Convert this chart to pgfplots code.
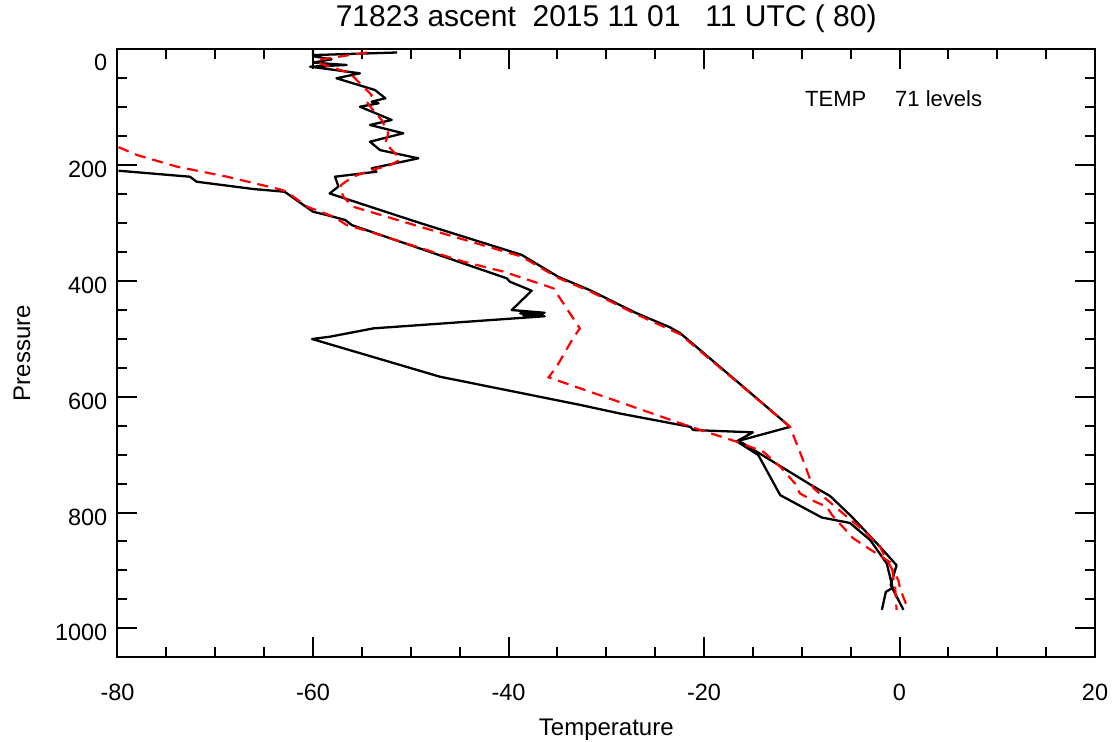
\documentclass[border=0pt]{standalone}
\usepackage{fontspec}
\setmainfont{Liberation Sans}
\usepackage{pgfplots}
\pgfplotsset{compat=1.18}
\begin{document}
\begin{tikzpicture}[x=1bp,y=1bp]
\begin{axis}[
  at={(0,0)}, anchor=south west,
  scale only axis, width=977.5bp, height=608bp,
  xmin=-80, xmax=20, ymin=0, ymax=1050, y dir=reverse,
  xtick={-80,-60,-40,-20,0,20}, xticklabels={-80,-60,-40,-20,0,20},
  minor x tick num=3,
  ytick={0,200,400,600,800,1000}, yticklabels={\raisebox{-8bp}[16.8bp][0pt]{0},200,400,600,800,1000},
  minor y tick num=3,
  major tick length=20bp, minor tick length=10bp,
  tick style={black, line width=2bp},
  axis line style={line width=2bp},
  xticklabel style={font=\fontsize{23.5bp}{27bp}\selectfont, inner sep=0pt, anchor=center, yshift=-35bp},
  yticklabel style={font=\fontsize{23.5bp}{27bp}\selectfont, inner sep=0pt, anchor=east, xshift=-10bp, yshift=-4.5bp},
  title={71823 ascent~~2015 11 01~~~11 UTC ( 80)},
  title style={at={(axis description cs:0.5,1.04)}, anchor=center, inner sep=0pt, font=\fontsize{30bp}{34bp}\selectfont},
  xlabel={Temperature},
  xlabel style={at={(axis description cs:0.5,-0.1196)}, anchor=center, inner sep=0pt, font=\fontsize{24bp}{28bp}\selectfont},
  ylabel={Pressure},
  ylabel style={at={(axis description cs:-0.0977,0.5)}, anchor=center, inner sep=0pt, rotate=0, font=\fontsize{24bp}{28bp}\selectfont},
]
% black, strand 1
\addplot[black, line width=2.3bp, line join=round] coordinates {
(0.4,968) (-0.9,925) (-0.3,891) (-2.0,859) (-4.9,807) (-7.1,771.5) (-8.8,755)
(-16.0,680.5) (-16.65,677) (-11.2,652) (-16.8,571) (-22.45,490) (-23.5,480)
(-27,455) (-31.66,416) (-34.9,393) (-38.65,355) (-49.05,300) (-58.3,249)
(-57.4,237) (-57.75,220) (-53.5,211.4) (-54.0,205.5) (-49.23,188.3) (-53.15,174)
(-54.17,159.6) (-50.76,145) (-54.17,130.7) (-51.95,122) (-55.2,99.1) (-53.3,93.3)
(-54.0,90.5) (-52.6,84.6) (-53.66,70.3) (-57.6,50) (-55.2,41.5) (-60.3,30)
(-56.55,27.1) (-60,23) (-58.1,17.3) (-60,12) (-60,1) (-60,10) (-51.4,5.5)
};
% black, strand 2
\addplot[black, line width=2.3bp, line join=round] coordinates {
(-1.8,968) (-1.4,937) (-0.7,930) (-1.3,888) (-3.0,847.5) (-5.07,818) (-7.96,808.5)
(-12.2,770) (-14.45,700.7) (-16.65,677) (-15.0,661.5) (-21.1,657.5) (-21.4,652)
(-28.6,629) (-32.7,614) (-47.0,565.5) (-60.1,500.3) (-58.3,496.4) (-53.8,481.9)
(-36.3,461) (-38.5,459) (-36.5,457.5) (-38.8,456) (-36.3,455) (-39.67,450.3)
(-37.63,416.9) (-39.85,401.4) (-40.18,395.5) (-56.04,303.5) (-56.7,294.8)
(-58.6,286.2) (-60.0,280.5) (-62.9,246) (-66.1,241.3) (-71.9,228.7) (-72.6,220)
(-79.9,209.7)
};
% red dashed, strand 1
\addplot[red, line width=2.2bp, dash pattern=on 11bp off 7bp] coordinates {
(-54.5,5.5) (-59.6,18.5) (-59.3,24.2) (-56.2,41.5) (-55.2,58.7) (-54.0,79)
(-54.5,90.5) (-54.0,102) (-52.97,122) (-52.3,145) (-52.6,162) (-51.44,182.6)
(-51.1,191) (-52.1,200) (-54.0,208.5) (-55.9,220) (-57.1,234) (-57.2,240)
(-56.9,254.6) (-55.9,271.8) (-49.05,306.4) (-38.65,358) (-34.9,395) (-31.66,418)
(-27,457) (-22.45,492) (-16.8,572) (-11.2,652) (-10.0,703.6) (-8.8,758)
(-7.96,770) (-5.4,807) (-3.53,833) (-2.0,859) (-1.3,882) (-0.12,916.6)
(0.05,931) (0.9,968)
};
% red dashed, strand 2
\addplot[red, line width=2.2bp, dash pattern=on 11bp off 7bp] coordinates {
(-79.9,169) (-78.0,182.6) (-73.9,202.8) (-68.8,220) (-63.4,241.8) (-62.7,246)
(-60.6,271.8) (-57.9,289) (-56.55,303.5) (-54.17,315) (-52.1,326.5) (-44.6,366.8)
(-40.5,384) (-35.4,412.8) (-32.7,482) (-33.4,499) (-35.07,548) (-35.9,566.5)
(-31.66,591.4) (-21.4,651.8) (-16.65,677.7) (-13.93,695) (-12.2,721) (-10.7,749.6)
(-10.2,766.8) (-9.0,778.4) (-7.45,790) (-6.9,804.3) (-4.73,844.6) (-3.7,856)
(-0.8,887.7) (-0.63,913.6) (-0.46,925) (-0.3,968)
};
\node[anchor=base west, inner sep=0pt, font=\fontsize{22bp}{26bp}\selectfont] at (axis cs:-9.67,98) {TEMP};
\node[anchor=base west, inner sep=0pt, font=\fontsize{22bp}{26bp}\selectfont] at (axis cs:-0.46,98) {71 levels};
\end{axis}
\pgfresetboundingbox
\path[use as bounding box] (-117.5bp,-84.7bp) rectangle (997.5bp,657.3bp);
\end{tikzpicture}
\end{document}
